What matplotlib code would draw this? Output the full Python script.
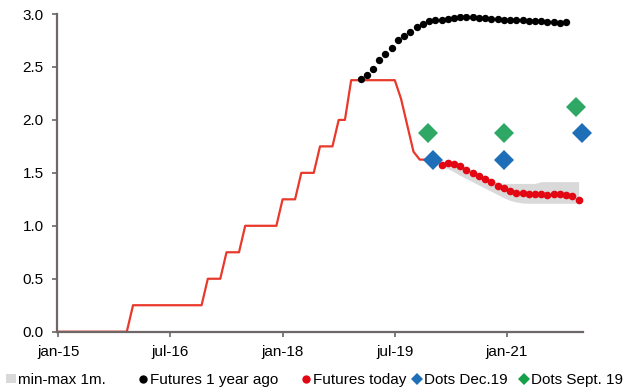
import numpy as np
import matplotlib
matplotlib.use("Agg")
import matplotlib.pyplot as plt
from matplotlib.lines import Line2D
from matplotlib.patches import Patch

plt.rcParams['font.family'] = ['Liberation Sans', 'DejaVu Sans']
plt.rcParams['font.size'] = 11

# ---- data (x = months since jan-2015) ----
tick_months = [0, 18, 36, 54, 72]
tick_labels = ["jan-15", "jul-16", "jan-18", "jul-19", "jan-21"]

policy_months = list(range(60))
policy_rate = ([0.0] * 12 + [0.25] * 12 + [0.5] * 3 + [0.75] * 3 + [1.0] * 6 +
               [1.25] * 3 + [1.5] * 3 + [1.75] * 3 + [2.0] * 2 + [2.375] * 8 +
               [2.2, 1.95, 1.7, 1.625, 1.625])

fut_1y_months = [48.5 + i for i in range(34)]
fut_1y = [2.39, 2.42, 2.48, 2.57, 2.62, 2.68, 2.75, 2.79, 2.83, 2.88, 2.91, 2.93,
          2.94, 2.945, 2.955, 2.965, 2.97, 2.975, 2.97, 2.965, 2.96, 2.955, 2.95,
          2.945, 2.94, 2.94, 2.94, 2.935, 2.935, 2.93, 2.925, 2.92, 2.915, 2.92]

fut_today_months = [61.5 + i for i in range(23)]
fut_today = [1.575, 1.59, 1.58, 1.56, 1.53, 1.50, 1.47, 1.44, 1.41, 1.38, 1.355,
             1.325, 1.31, 1.31, 1.305, 1.305, 1.305, 1.295, 1.305, 1.305, 1.295, 1.28, 1.245]
band_upper = [1.60, 1.61, 1.60, 1.58, 1.55, 1.52, 1.49, 1.46, 1.43, 1.41, 1.40,
              1.40, 1.40, 1.40, 1.40, 1.40, 1.417, 1.417, 1.417, 1.417, 1.417, 1.417, 1.417]
band_lower = [1.56, 1.54, 1.51, 1.475, 1.445, 1.415, 1.385, 1.355, 1.325, 1.295, 1.265,
              1.24, 1.225, 1.215, 1.213, 1.213, 1.213, 1.213, 1.213, 1.213, 1.213, 1.213, 1.213]

dots_dec_months = [60.1, 71.6, 84.0]
dots_dec = [1.625, 1.625, 1.875]
dots_sep_months = [59.3, 71.5, 83.0]
dots_sep = [1.875, 1.875, 2.125]

legend_labels = ["min-max 1m.", "Futures 1 year ago", "Futures today", "Dots Dec.19", "Dots Sept. 19"]

# ---- colours ----
c_band = '#d9d9d9'
c_line = '#e8392b'
c_red = '#e30613'
c_blue = '#1f6fb8'
c_green = '#2fa865'
c_green_leg = '#16a04a'
c_spine = '#6d6767'

W, H = 627, 391
fig = plt.figure(figsize=(W / 100, H / 100), dpi=100)
ax = fig.add_axes([57 / W, 59.3 / H, 526 / W, 317.7 / H])

ax.fill_between(fut_today_months, band_lower, band_upper, color=c_band, lw=0, zorder=1)
ax.plot(policy_months, policy_rate, color=c_line, lw=1.6, zorder=2)
ax.plot(fut_1y_months, fut_1y, 'o', color='black', ms=5.3, mew=0, zorder=3)
ax.plot(fut_today_months, fut_today, 'o', color=c_red, ms=5.5, mew=0, zorder=3)
ax.plot(dots_dec_months, dots_dec, 'D', color=c_blue, ms=9.7, mew=0, zorder=4, clip_on=False)
ax.plot(dots_sep_months, dots_sep, 'D', color=c_green, ms=9.7, mew=0, zorder=4, clip_on=False)

ax.set_xlim(-0.2, 84.2)
ax.set_ylim(0, 3.0)
yt = np.arange(0, 3.01, 0.5)
ax.set_yticks(yt)
ax.set_yticklabels([f"{v:.1f}" for v in yt])
ax.set_xticks(tick_months)
ax.set_xticklabels(tick_labels)

for s in ['top', 'right']:
    ax.spines[s].set_visible(False)
for s in ['left', 'bottom']:
    ax.spines[s].set_color(c_spine)
    ax.spines[s].set_linewidth(1.6)
ax.tick_params(axis='both', colors=c_spine, labelcolor='black', length=3.5, width=1.2,
               direction='out', labelsize=11)
ax.tick_params(axis='y', pad=6)
ax.tick_params(axis='x', pad=6)

handles = [
    Patch(facecolor=c_band, edgecolor='none'),
    Line2D([], [], ls='none', marker='o', color='black', ms=6, mew=0),
    Line2D([], [], ls='none', marker='o', color=c_red, ms=6, mew=0),
    Line2D([], [], ls='none', marker='D', color=c_blue, ms=6.5, mew=0),
    Line2D([], [], ls='none', marker='D', color=c_green_leg, ms=6.5, mew=0),
]
# legend entries placed individually (Excel-like irregular spacing)
anchors_px = [5.5, 137.5, 300.5, 411.5, 518.5]
for h, lab, xa in zip(handles, legend_labels, anchors_px):
    fig.legend([h], [lab], loc='center left', bbox_to_anchor=(xa / W, 11 / H),
               frameon=False, handlelength=0.7, handleheight=0.6, handletextpad=0.15,
               borderpad=0, borderaxespad=0, fontsize=11)

fig.savefig('out.png', dpi=100)
